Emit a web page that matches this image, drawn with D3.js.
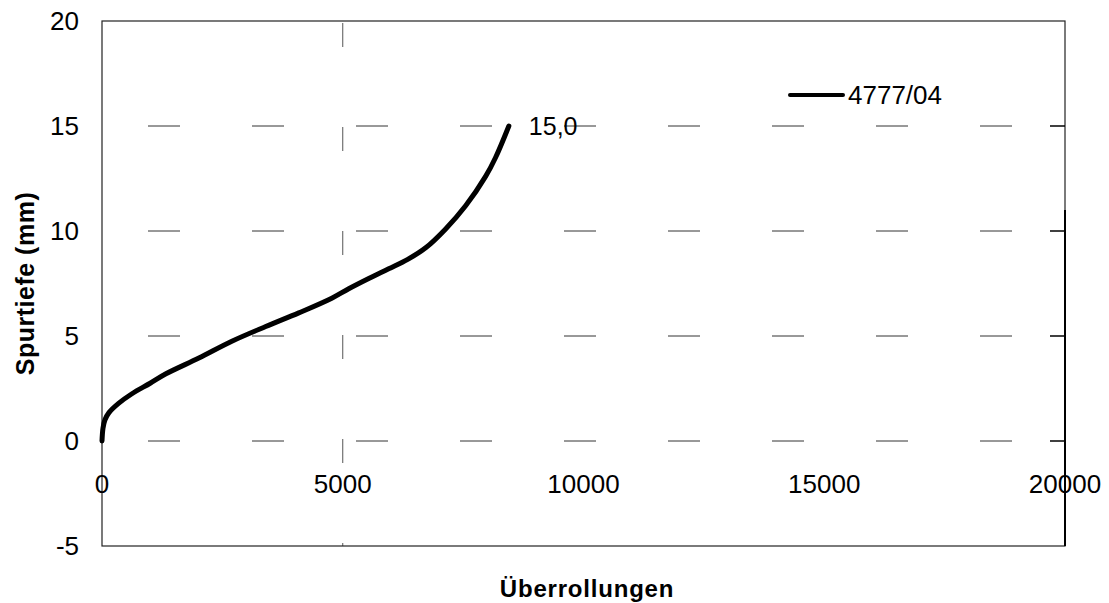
<!DOCTYPE html>
<html lang="de">
<head>
<meta charset="UTF-8">
<title>Spurtiefe</title>
<script src="https://d3js.org/d3.v7.min.js"></script>
<style>
  body { margin: 0; background: #fff; }
  text { font-family: "Liberation Sans", Arial, sans-serif; fill: #000; }
</style>
</head>
<body>
<div id="chart"></div>
<script>
// data
var xTicks = [0, 5000, 10000, 15000, 20000];
var yTicks = [-5, 0, 5, 10, 15, 20];
var seriesName = "4777/04";
var ueberrollungen = [0, 20, 60, 145, 350, 622, 1000, 1328, 2012, 2697, 3400, 4087, 4772, 5124, 5550, 5954, 6350, 6722, 7137, 7552, 7967, 8174, 8450];
var spurtiefe =      [0, 0.6, 1.0, 1.35, 1.8, 2.25, 2.75, 3.2, 3.95, 4.75, 5.45, 6.1, 6.8, 7.25, 7.75, 8.2, 8.65, 9.2, 10.1, 11.2, 12.6, 13.5, 15.0];
var endLabel = "15,0";
var vGrid = [5000];

var W = 1109, H = 603;
var margin = {top: 21, right: 44, bottom: 57, left: 102};

var svg = d3.select("#chart").append("svg")
    .attr("width", W).attr("height", H);

var x = d3.scaleLinear().domain([0, 20000]).range([margin.left, W - margin.right]);
var y = d3.scaleLinear().domain([-5, 20]).range([H - margin.bottom, margin.top]);

// horizontal grid (broken, scanned look)
svg.append("g").selectAll("line")
    .data(yTicks.filter(function(d){ return d > -5 && d < 20; }))
    .enter().append("line")
    .attr("x1", x(0)).attr("x2", x(20000))
    .attr("y1", function(d){ return y(d); })
    .attr("y2", function(d){ return y(d); })
    .attr("stroke", "#333").attr("stroke-width", 1)
    .attr("stroke-dasharray", "32,72")
    .attr("stroke-dashoffset", -46);

// vertical grid
svg.append("g").selectAll("line")
    .data(vGrid)
    .enter().append("line")
    .attr("x1", function(d){ return x(d); }).attr("x2", function(d){ return x(d); })
    .attr("y1", y(20)).attr("y2", y(-5))
    .attr("stroke", "#555").attr("stroke-width", 1)
    .attr("stroke-dasharray", "24,80")
    .attr("stroke-dashoffset", -2);

// frame
svg.append("rect")
    .attr("x", x(0)).attr("y", y(20))
    .attr("width", x(20000) - x(0)).attr("height", y(-5) - y(20))
    .attr("fill", "none").attr("stroke", "#222").attr("stroke-width", 1.2);
svg.append("line")
    .attr("x1", x(20000)).attr("x2", x(20000))
    .attr("y1", y(11)).attr("y2", y(-5))
    .attr("stroke", "#000").attr("stroke-width", 2);

// right-side ticks
svg.append("g").selectAll("line")
    .data(yTicks.filter(function(d){ return d >= 0 && d <= 15; }))
    .enter().append("line")
    .attr("x1", x(20000) - 15).attr("x2", x(20000))
    .attr("y1", function(d){ return y(d); })
    .attr("y2", function(d){ return y(d); })
    .attr("stroke", "#000").attr("stroke-width", 1.5);

// y tick labels
svg.append("g").selectAll("text")
    .data(yTicks).enter().append("text")
    .attr("x", 79)
    .attr("y", function(d){ return y(d); })
    .attr("dy", "0.35em")
    .attr("text-anchor", "end")
    .attr("font-size", "26px")
    .text(function(d){ return d; });

// x tick labels (below the zero line)
svg.append("g").selectAll("text")
    .data(xTicks).enter().append("text")
    .attr("x", function(d){ return x(d); })
    .attr("y", y(-2.05))
    .attr("dy", "0.35em")
    .attr("text-anchor", "middle")
    .attr("font-size", "26px")
    .text(function(d){ return d; });

// axis titles
svg.append("text")
    .attr("transform", "translate(34," + ((y(20) + y(-5)) / 2) + ") rotate(-90)")
    .attr("text-anchor", "middle")
    .attr("font-size", "25px")
    .attr("font-weight", "bold")
    .attr("letter-spacing", "0.5px")
    .text("Spurtiefe (mm)");

svg.append("text")
    .attr("x", 587).attr("y", 597)
    .attr("text-anchor", "middle")
    .attr("font-size", "24px")
    .attr("font-weight", "bold")
    .attr("letter-spacing", "0.8px")
    .text("Überrollungen");

// curve
var pts = ueberrollungen.map(function(v, i){ return [v, spurtiefe[i]]; });
var line = d3.line()
    .x(function(d){ return x(d[0]); })
    .y(function(d){ return y(d[1]); })
    .curve(d3.curveCatmullRom.alpha(0.5));

svg.append("path")
    .datum(pts)
    .attr("d", line)
    .attr("fill", "none")
    .attr("stroke", "#000")
    .attr("stroke-width", 5)
    .attr("stroke-linecap", "round")
    .attr("stroke-linejoin", "round");

// end label
var last = pts[pts.length - 1];
svg.append("text")
    .attr("x", x(last[0]) + 20).attr("y", y(last[1]))
    .attr("dy", "0.35em")
    .attr("font-size", "25px")
    .text(endLabel);

// legend
svg.append("line")
    .attr("x1", 790).attr("x2", 843)
    .attr("y1", 95).attr("y2", 95)
    .attr("stroke", "#000").attr("stroke-width", 4)
    .attr("stroke-linecap", "round");
svg.append("text")
    .attr("x", 848).attr("y", 95)
    .attr("dy", "0.35em")
    .attr("font-size", "26px")
    .text(seriesName);
</script>
</body>
</html>
